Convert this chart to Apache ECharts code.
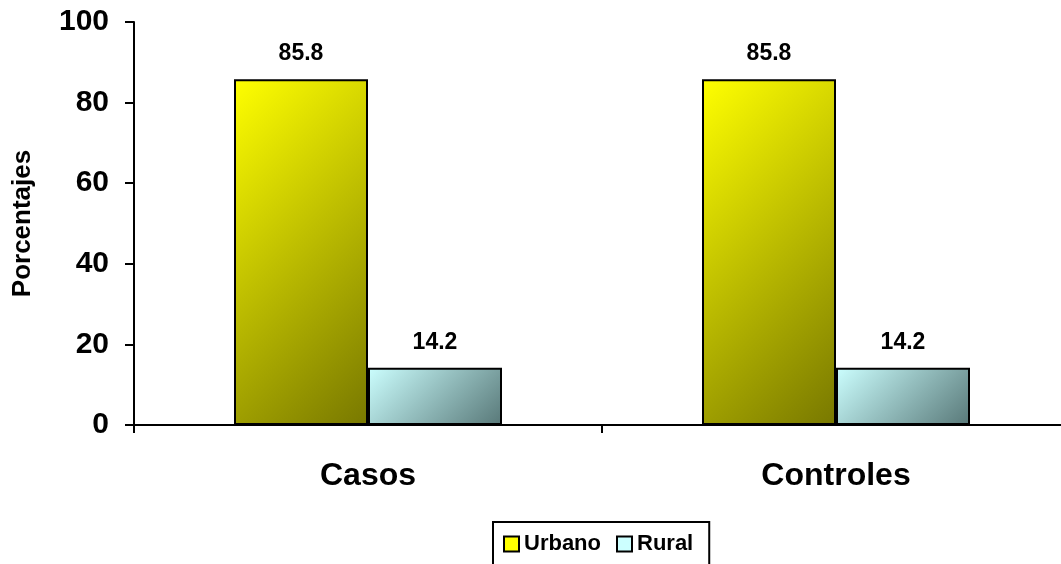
<!DOCTYPE html>
<html>
<head>
<meta charset="utf-8">
<script src="https://cdn.jsdelivr.net/npm/echarts@6/dist/echarts.min.js"></script>
<style>
    html, body { margin: 0; padding: 0; background: #ffffff; }
    #chart { width: 1061px; height: 564px; }
</style>
</head>
<body>
<div id="chart"></div>
<script>
    var categories = ['Casos', 'Controles'];
    var urbano = [85.8, 85.8];
    var rural = [14.2, 14.2];
    var yTicks = [0, 20, 40, 60, 80, 100];

    var font = '"Liberation Sans", Arial, sans-serif';
    var barW = 134;
    var chart = echarts.init(document.getElementById('chart'));

    // diagonal (45 deg in screen space) shading like the old office charts
    function grad(h, c1, c2) {
        var span = (barW + h) / 2;
        return new echarts.graphic.LinearGradient(0, 0, span / barW, span / h, [
            {offset: 0, color: c1},
            {offset: 1, color: c2}
        ]);
    }

    var label = {
        show: true,
        position: 'top',
        distance: 14,
        fontFamily: font,
        fontWeight: 'bold',
        fontSize: 23,
        color: '#000',
        formatter: function (p) { return p.value.toFixed(1); }
    };

    chart.setOption({
        animation: false,
        grid: {left: 134, top: 22, width: 936, height: 403, outerBoundsMode: 'none'},
        legend: {
            data: ['Urbano', 'Rural'],
            left: 493,
            top: 522,
            icon: 'rect',
            itemWidth: 15,
            itemHeight: 15,
            itemGap: 15,
            borderColor: '#000',
            borderWidth: 2,
            padding: [11, 16, 30, 10],
            itemStyle: {borderColor: '#000', borderWidth: 2},
            textStyle: {fontFamily: font, fontWeight: 'bold', fontSize: 22, color: '#000', padding: [0, 0, 0, 0]}
        },
        xAxis: {
            type: 'category',
            data: categories,
            axisLine: {lineStyle: {color: '#000', width: 2}},
            axisTick: {show: true, length: 8, lineStyle: {color: '#000', width: 2}},
            axisLabel: {fontFamily: font, fontWeight: 'bold', fontSize: 32, color: '#000', margin: 35}
        },
        yAxis: {
            type: 'value',
            min: 0,
            max: 100,
            interval: 20,
            name: 'Porcentajes',
            nameLocation: 'middle',
            nameGap: 98,
            nameTextStyle: {fontFamily: font, fontWeight: 'bold', fontSize: 26, color: '#000'},
            axisLine: {show: true, lineStyle: {color: '#000', width: 2}},
            axisTick: {show: true, length: 9, lineStyle: {color: '#000', width: 2}},
            splitLine: {show: false},
            axisLabel: {
                fontFamily: font, fontWeight: 'bold', fontSize: 30, color: '#000', margin: 25,
                formatter: function (v) { return yTicks.indexOf(v) >= 0 ? String(v) : ''; }
            }
        },
        series: [
            {
                name: 'Urbano',
                type: 'bar',
                data: urbano,
                barWidth: barW,
                barGap: '0%',
                itemStyle: {color: '#ffff00', borderColor: '#000', borderWidth: 2},
                label: label
            },
            {
                name: 'Rural',
                type: 'bar',
                data: rural,
                barWidth: barW,
                itemStyle: {color: '#ccffff', borderColor: '#000', borderWidth: 2},
                label: label
            }
        ]
    });

    // bar heights in pixels, read back from the value axis
    function barH(v) {
        var p0 = chart.convertToPixel({gridIndex: 0}, [0, 0]);
        var p1 = chart.convertToPixel({gridIndex: 0}, [0, v]);
        return Math.max(1, p0[1] - p1[1]);
    }

    chart.setOption({
        series: [
            {
                name: 'Urbano',
                data: urbano.map(function (v) {
                    return {value: v, itemStyle: {color: grad(barH(v), '#ffff00', '#787800')}};
                })
            },
            {
                name: 'Rural',
                data: rural.map(function (v) {
                    return {value: v, itemStyle: {color: grad(barH(v), '#ccffff', '#587878')}};
                })
            }
        ]
    });
</script>
</body>
</html>
